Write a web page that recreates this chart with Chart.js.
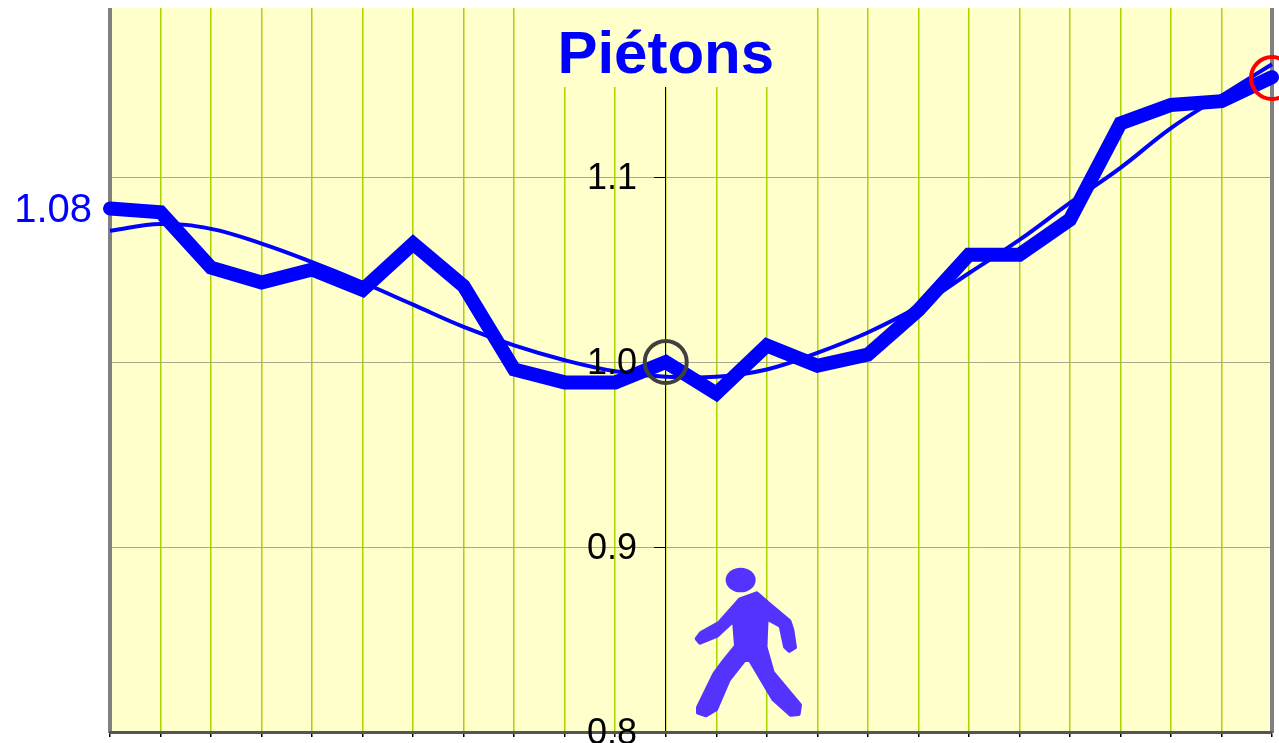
<!DOCTYPE html>
<html><head><meta charset="utf-8">
<style>html,body{margin:0;padding:0;background:#fff;overflow:hidden}canvas{display:block}</style>
<script src="https://cdn.jsdelivr.net/npm/chart.js@4"></script>
</head><body><canvas id="c" width="1279" height="743"></canvas>
<script>
const categories = ['0','1','2','3','4','5','6','7','8','9','10','11','12','13','14','15','16','17','18','19','20','21','22','23'];
const pietons = [1.083,1.081,1.051,1.043,1.050,1.039,1.064,1.041,0.996,0.989,0.989,1.000,0.983,1.009,0.998,1.004,1.028,1.058,1.058,1.077,1.129,1.139,1.141,1.154];
const tendance = [1.071,1.0746,1.072,1.064,1.054,1.043,1.031,1.019,1.009,1.001,0.995,0.992,0.992,0.996,1.005,1.016,1.030,1.048,1.066,1.086,1.105,1.1265,1.144,1.161];
const reperes = [null,null,null,null,null,null,null,null,null,null,null,1.000,null,null,null,null,null,null,null,null,null,null,null,1.1535];
const repereColors = categories.map((c,i)=> i===11 ? '#404040' : '#FF0000');
const titleText = 'Piétons';
const firstLabel = '1.08';
const walker = [[540,178],[590,160],[628,193],[688,243],[697,270],[705,322],[688,332],[675,320],[662,258],[620,235],[616,320],[638,397],[720,495],[716,522],[692,524],[640,478],[570,360],[553,360],[506,420],[468,508],[438,526],[414,518],[414,502],[463,402],[492,362],[528,318],[522,240],[470,288],[420,308],[410,296],[423,279],[478,248],[518,203]];

const decor = {
  id:'decor',
  beforeLayout(chart){
    const t = chart.titleBlock;
    if(t) t._layers = () => [{z:5, draw(a){t.draw(a);}}];
  },
  afterLayout(chart){
    const t = chart.titleBlock;
    const cx = chart.scales.x.getPixelForValue(11);
    if(t){t.left = cx-300;t.right = cx+300;}
  },
  beforeDraw(chart){
    const {ctx,chartArea:a} = chart;
    ctx.save();ctx.fillStyle='#FFFFCC';ctx.fillRect(a.left,a.top,a.right-a.left,a.bottom-a.top);ctx.restore();
  },
  beforeDatasetsDraw(chart){
    const {ctx,chartArea:a} = chart;
    ctx.save();
    ctx.fillStyle='#FFFFFF';
    ctx.fillRect(520,a.top-2,290,2);
    ctx.fillStyle='#FFFFCC';
    ctx.fillRect(520,a.top,290,79);
    ctx.fillStyle='#808080';
    ctx.fillRect(a.left-2,a.top,4,a.bottom-a.top+1);
    ctx.fillRect(a.right-2,a.top,4,a.bottom-a.top+1);
    ctx.translate(560,540);ctx.scale(1/3,1/3);
    ctx.fillStyle='#5533FF';ctx.strokeStyle='#5533FF';ctx.lineWidth=12;ctx.lineJoin='round';
    ctx.beginPath();ctx.ellipse(542,120,45,37,0,0,Math.PI*2);ctx.fill();
    ctx.beginPath();walker.forEach((p,i)=> i?ctx.lineTo(p[0],p[1]):ctx.moveTo(p[0],p[1]));ctx.closePath();ctx.fill();ctx.stroke();
    ctx.restore();
  },
  afterDatasetsDraw(chart){
    const {ctx,scales} = chart;
    ctx.save();
    ctx.fillStyle='#0000FF';ctx.font='40px "Liberation Sans"';ctx.textAlign='right';ctx.textBaseline='middle';
    ctx.fillText(firstLabel,92,scales.y.getPixelForValue(pietons[0])+2);
    ctx.restore();
  }
};
function noPad(s){s.paddingTop=0;s.paddingBottom=0;s.paddingLeft=0;s.paddingRight=0;}

new Chart(document.getElementById('c'),{
  type:'line',
  plugins:[decor],
  data:{labels:categories,datasets:[
    {label:'Repères',data:reperes,showLine:false,pointRadius:21,pointHoverRadius:21,pointBorderWidth:4,pointBorderColor:repereColors,pointBackgroundColor:'rgba(0,0,0,0)',clip:false,order:1},
    {label:'Piétons',data:pietons,borderColor:'#0000FF',borderWidth:14,pointRadius:0,tension:0,borderCapStyle:'round',borderJoinStyle:'miter',clip:false,order:2},
    {label:'Tendance',data:tendance,borderColor:'#0000FF',borderWidth:4,pointRadius:0,tension:0.4,clip:false,order:3}
  ]},
  options:{
    responsive:false,animation:false,
    layout:{autoPadding:false,padding:{left:110,right:7,top:8,bottom:0}},
    plugins:{
      legend:{display:false},tooltip:{enabled:false},
      title:{display:true,text:titleText,color:'#0000FF',font:{family:'"Liberation Sans"',size:60,weight:'bold',lineHeight:1.2},padding:{top:12,bottom:-84}}
    },
    scales:{
      x:{type:'category',offset:false,
        grid:{color:'#A8D400',lineWidth:1.5,tickColor:'#000000',tickWidth:1.5,tickLength:5,drawTicks:true},
        border:{display:true,color:'#555555',width:3,z:1},
        ticks:{display:false,autoSkip:false,maxRotation:0},
        afterFit(s){noPad(s);s.height=11;}
      },
      y:{type:'linear',min:0.8,max:1.1914,position:{x:10.43},
        grid:{display:false},
        border:{display:false},
        ticks:{stepSize:0.1,includeBounds:false,z:1,labelOffset:2,color:'#000000',font:{family:'"Liberation Sans"',size:36},callback:v=>Number(v).toFixed(1)},
        afterFit:noPad
      },
      yAxe:{type:'linear',min:0.8,max:1.1914,position:{x:11},
        grid:{color:'#A9A98A',lineWidth:1,tickColor:'#000000',tickLength:11,drawTicks:true},
        border:{display:true,color:'#000000',width:1},
        ticks:{display:false,stepSize:0.1,includeBounds:false},
        afterFit:noPad
      }
    }
  }
});
</script></body></html>
